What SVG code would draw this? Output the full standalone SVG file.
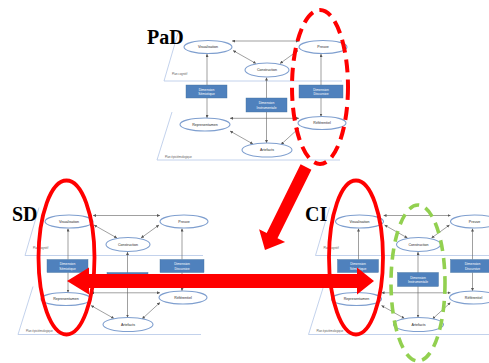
<svg xmlns="http://www.w3.org/2000/svg" width="489" height="363" viewBox="0 0 489 363">
<style>
.plane{fill:none;stroke:#b4c7e7;stroke-width:0.8}
.pl{font-family:"Liberation Sans",Arial,sans-serif;font-size:2.8px;fill:#595959}
.cn line{stroke:#606060;stroke-width:0.6;marker-end:url(#ah)}
.cn line.d{marker-start:url(#ah)}
.el{fill:#fff;stroke:#7f9fcf;stroke-width:1.1}
.et{font-family:"Liberation Sans",Arial,sans-serif;font-size:3.6px;fill:#262626;text-anchor:middle}
.bx{fill:#4f81bd;stroke:#41719c;stroke-width:0.4}
.bt{font-family:"Liberation Sans",Arial,sans-serif;font-size:3.3px;fill:#fff;text-anchor:middle}
.ttl{font-family:"Liberation Serif","Times New Roman",serif;font-size:20px;font-weight:bold;fill:#000}
.red{fill:none;stroke:#ff0000;stroke-width:3.8}
.redd{fill:none;stroke:#ff0000;stroke-width:4;stroke-dasharray:13 7}
.grn{fill:none;stroke:#92d050;stroke-width:3.6;stroke-dasharray:11 7}
</style>
<defs>
<marker id="ah" viewBox="0 0 6 6" refX="6" refY="3" markerWidth="3" markerHeight="3" markerUnits="userSpaceOnUse" orient="auto-start-reverse"><path d="M0,0 L6,3 L0,6 z" fill="#555"/></marker>
</defs>
<rect width="489" height="363" fill="#fff"/>

<!-- PaD diagram -->
<g id="pad">
<g class="planes">
<path class="plane" d="M178,33 L164,81 L342,81"/>
<path class="plane" d="M172,112 L157,160 L340,160"/>
<text class="pl" x="172" y="74.5">Plan cognitif</text>
<text class="pl" x="165" y="157.5">Plan épistémologique</text>
</g>
<g class="cn" id="pad-connectors">
<line class="d" x1="232" y1="41" x2="299" y2="41"/>
<line class="d" x1="233" y1="50.5" x2="256" y2="63.5"/>
<line class="d" x1="298" y1="50.5" x2="280" y2="63.5"/>
<line x1="207" y1="85" x2="207" y2="54"/>
<line x1="207" y1="98" x2="207" y2="118"/>
<line x1="321" y1="85" x2="321" y2="54"/>
<line x1="321" y1="98" x2="321" y2="116.5"/>
<line class="d" x1="266.5" y1="77.5" x2="266.5" y2="143"/>
<line class="d" x1="230" y1="118.3" x2="299" y2="118.3"/>
<line class="d" x1="230" y1="131" x2="253" y2="144"/>
<line class="d" x1="299" y1="128" x2="281" y2="144.5"/>
</g>
<g id="pad-semiotique"><rect class="bx" x="186" y="85" width="41" height="13"/><text class="bt" x="206.5" y="90.5">Dimension</text><text class="bt" x="206.5" y="95">Sémiotique</text></g>
<g id="pad-instrumentale"><rect class="bx" x="246" y="98" width="41" height="14"/><text class="bt" x="266.5" y="104">Dimension</text><text class="bt" x="266.5" y="108.5">Instrumentale</text></g>
<g id="pad-discursive"><rect class="bx" x="299" y="85" width="44" height="13"/><text class="bt" x="321" y="90.5">Dimension</text><text class="bt" x="321" y="95">Discursive</text></g>
<g id="pad-visualisation"><ellipse class="el" cx="208" cy="47" rx="24" ry="6.5"/><text class="et" x="208" y="48.3">Visualisation</text></g>
<g id="pad-preuve"><ellipse class="el" cx="323" cy="47" rx="24" ry="6.5"/><text class="et" x="323" y="48.3">Preuve</text></g>
<g id="pad-construction"><ellipse class="el" cx="267" cy="70" rx="22" ry="7"/><text class="et" x="267" y="71.3">Construction</text></g>
<g id="pad-representamen"><ellipse class="el" cx="205" cy="124.5" rx="25" ry="6.5"/><text class="et" x="205" y="125.8">Representamen</text></g>
<g id="pad-referentiel"><ellipse class="el" cx="322" cy="123" rx="24" ry="6.5"/><text class="et" x="322" y="124.3">Référentiel</text></g>
<g id="pad-artefacts"><ellipse class="el" cx="267" cy="150" rx="25" ry="7"/><text class="et" x="267" y="151.3">Artefacts</text></g>
</g>

<!-- SD diagram -->
<g id="sd" transform="translate(-139,174.5)">
<g class="planes">
<path class="plane" d="M178,33 L164,81 L342,81"/>
<path class="plane" d="M172,112 L157,160 L340,160"/>
<text class="pl" x="172" y="74.5">Plan cognitif</text>
<text class="pl" x="165" y="157.5">Plan épistémologique</text>
</g>
<g class="cn" id="sd-connectors">
<line class="d" x1="232" y1="41" x2="299" y2="41"/>
<line class="d" x1="233" y1="50.5" x2="256" y2="63.5"/>
<line class="d" x1="298" y1="50.5" x2="280" y2="63.5"/>
<line x1="207" y1="85" x2="207" y2="54"/>
<line x1="207" y1="98" x2="207" y2="118"/>
<line x1="321" y1="85" x2="321" y2="54"/>
<line x1="321" y1="98" x2="321" y2="116.5"/>
<line class="d" x1="266.5" y1="77.5" x2="266.5" y2="143"/>
<line class="d" x1="230" y1="118.3" x2="299" y2="118.3"/>
<line class="d" x1="230" y1="131" x2="253" y2="144"/>
<line class="d" x1="299" y1="128" x2="281" y2="144.5"/>
</g>
<g id="sd-semiotique"><rect class="bx" x="186" y="85" width="41" height="13"/><text class="bt" x="206.5" y="90.5">Dimension</text><text class="bt" x="206.5" y="95">Sémiotique</text></g>
<g id="sd-instrumentale"><rect class="bx" x="246" y="98" width="41" height="14"/><text class="bt" x="266.5" y="104">Dimension</text><text class="bt" x="266.5" y="108.5">Instrumentale</text></g>
<g id="sd-discursive"><rect class="bx" x="299" y="85" width="44" height="13"/><text class="bt" x="321" y="90.5">Dimension</text><text class="bt" x="321" y="95">Discursive</text></g>
<g id="sd-visualisation"><ellipse class="el" cx="208" cy="47" rx="24" ry="6.5"/><text class="et" x="208" y="48.3">Visualisation</text></g>
<g id="sd-preuve"><ellipse class="el" cx="323" cy="47" rx="24" ry="6.5"/><text class="et" x="323" y="48.3">Preuve</text></g>
<g id="sd-construction"><ellipse class="el" cx="267" cy="70" rx="22" ry="7"/><text class="et" x="267" y="71.3">Construction</text></g>
<g id="sd-representamen"><ellipse class="el" cx="205" cy="124.5" rx="25" ry="6.5"/><text class="et" x="205" y="125.8">Representamen</text></g>
<g id="sd-referentiel"><ellipse class="el" cx="322" cy="123" rx="24" ry="6.5"/><text class="et" x="322" y="124.3">Référentiel</text></g>
<g id="sd-artefacts"><ellipse class="el" cx="267" cy="150" rx="25" ry="7"/><text class="et" x="267" y="151.3">Artefacts</text></g>
</g>

<!-- CI diagram -->
<g id="ci" transform="translate(151.5,174.5)">
<g class="planes">
<path class="plane" d="M178,33 L164,81 L342,81"/>
<path class="plane" d="M172,112 L157,160 L340,160"/>
<text class="pl" x="172" y="74.5">Plan cognitif</text>
<text class="pl" x="165" y="157.5">Plan épistémologique</text>
</g>
<g class="cn" id="ci-connectors">
<line class="d" x1="232" y1="41" x2="299" y2="41"/>
<line class="d" x1="233" y1="50.5" x2="256" y2="63.5"/>
<line class="d" x1="298" y1="50.5" x2="280" y2="63.5"/>
<line x1="207" y1="85" x2="207" y2="54"/>
<line x1="207" y1="98" x2="207" y2="118"/>
<line x1="321" y1="85" x2="321" y2="54"/>
<line x1="321" y1="98" x2="321" y2="116.5"/>
<line class="d" x1="266.5" y1="77.5" x2="266.5" y2="143"/>
<line class="d" x1="230" y1="118.3" x2="299" y2="118.3"/>
<line class="d" x1="230" y1="131" x2="253" y2="144"/>
<line class="d" x1="299" y1="128" x2="281" y2="144.5"/>
</g>
<g id="ci-semiotique"><rect class="bx" x="186" y="85" width="41" height="13"/><text class="bt" x="206.5" y="90.5">Dimension</text><text class="bt" x="206.5" y="95">Sémiotique</text></g>
<g id="ci-instrumentale"><rect class="bx" x="246" y="98" width="41" height="14"/><text class="bt" x="266.5" y="104">Dimension</text><text class="bt" x="266.5" y="108.5">Instrumentale</text></g>
<g id="ci-discursive"><rect class="bx" x="299" y="85" width="44" height="13"/><text class="bt" x="321" y="90.5">Dimension</text><text class="bt" x="321" y="95">Discursive</text></g>
<g id="ci-visualisation"><ellipse class="el" cx="208" cy="47" rx="24" ry="6.5"/><text class="et" x="208" y="48.3">Visualisation</text></g>
<g id="ci-preuve"><ellipse class="el" cx="323" cy="47" rx="24" ry="6.5"/><text class="et" x="323" y="48.3">Preuve</text></g>
<g id="ci-construction"><ellipse class="el" cx="267" cy="70" rx="22" ry="7"/><text class="et" x="267" y="71.3">Construction</text></g>
<g id="ci-representamen"><ellipse class="el" cx="205" cy="124.5" rx="25" ry="6.5"/><text class="et" x="205" y="125.8">Representamen</text></g>
<g id="ci-referentiel"><ellipse class="el" cx="322" cy="123" rx="24" ry="6.5"/><text class="et" x="322" y="124.3">Référentiel</text></g>
<g id="ci-artefacts"><ellipse class="el" cx="267" cy="150" rx="25" ry="7"/><text class="et" x="267" y="151.3">Artefacts</text></g>
</g>

<!-- titles -->
<text class="ttl" x="147" y="44">PaD</text>
<text class="ttl" x="12" y="221">SD</text>
<text class="ttl" x="305" y="221">CI</text>

<!-- highlights -->
<g id="highlights">
<ellipse class="redd" cx="320" cy="87" rx="28" ry="77"/>
<ellipse class="red" cx="66.5" cy="257.5" rx="28" ry="77"/>
<ellipse class="red" cx="356" cy="257.5" rx="27" ry="77"/>
<ellipse class="grn" cx="418" cy="283" rx="27" ry="78"/>
<polygon fill="#ff0000" points="300.6,164.3 311.4,169.7 277.5,238.3 285.1,242 265,250 259.1,229.2 266.7,232.9"/>
<polygon fill="#ff0000" points="67,281 89,267.5 89,274 357,274 357,267.5 374,281 357,294.5 357,288 89,288 89,294.5"/>
</g>
</svg>
